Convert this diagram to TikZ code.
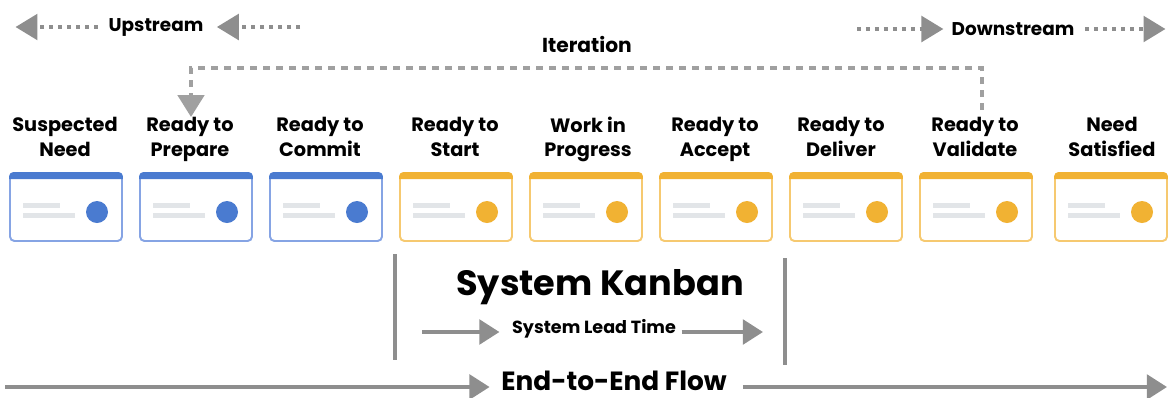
\documentclass[tikz,border=0pt]{standalone}
\usepackage{fontspec}
\setmainfont{Poppins}
\usetikzlibrary{arrows.meta, calc}
\definecolor{cardblue}{HTML}{4A7BD0}
\definecolor{cardblueedge}{HTML}{86A4E4}
\definecolor{cardorange}{HTML}{F1B233}
\definecolor{cardorangeedge}{HTML}{F6C970}
\definecolor{linegray}{HTML}{E2E5E8}
\definecolor{arrowgray}{HTML}{8E8E8E}
\definecolor{dashgray}{HTML}{A0A0A0}

\begin{document}
\begin{tikzpicture}[x=0.02cm, y=-0.02cm,
  stage/.style={font=\fontsize{11}{13.9}\selectfont\bfseries, align=center, inner sep=0pt,
    execute at begin node=\strut, execute at end node=\strut},
  card/.style={draw=card#1edge, fill=white, line width=1.1pt, rounded corners=2.5pt,
    minimum width=2.24cm, minimum height=1.36cm, inner sep=0pt},
  dotflow/.style={arrowgray, line width=2.3pt, dash pattern=on 2.3pt off 2.8pt,
    -{Triangle[length=12.5pt, width=14.5pt, sep=2pt]}},
  itline/.style={dashgray, line width=2.2pt, dash pattern=on 4pt off 3.4pt,
    -{Triangle[length=12.5pt, width=15pt]}},
  flow/.style={arrowgray, line width=2.3pt, -{Triangle[length=11.5pt, width=14pt]}},
  bound/.style={arrowgray, line width=1.8pt}]
  \useasboundingbox (0,0) rectangle (1170,397);

  %% Stream direction headers
  \node[font=\fontsize{10.5}{12}\selectfont\bfseries, inner sep=0pt] (up) at (156,27) {Upstream};
  \coordinate (upL) at (12,27);
  \coordinate (upR) at (300,27);
  \draw[dotflow, shorten <=6pt] (up.west) -- (upL);
  \draw[dotflow, shorten >=5.5pt] (upR) -- (up.east);

  \node[font=\fontsize{10.5}{12}\selectfont\bfseries, inner sep=0pt] (dn) at (1013,29) {Downstream};
  \coordinate (dnL) at (857,29);
  \coordinate (dnR) at (1169,29);
  \draw[dotflow, shorten >=2.5pt] (dnL) -- (dn.west);
  \draw[dotflow, shorten <=6pt] (dn.east) -- (dnR);

  \node[font=\fontsize{11.5}{13}\selectfont\bfseries, inner sep=0pt] (iter) at (587,44) {Iteration};

  %% Stages with their cards
  \foreach \i/\x/\lx/\col/\txt in {
      1/66/65/blue/{Suspected\\Need},
      2/196/190/blue/{Ready to\\Prepare},
      3/326/320/blue/{Ready to\\Commit},
      4/456/455/orange/{Ready to\\Start},
      5/586/588/orange/{Work in\\Progress},
      6/716/715/orange/{Ready to\\Accept},
      7/846/841/orange/{Ready to\\Deliver},
      8/976/975/orange/{Ready to\\Validate},
      9/1111/1112/orange/{Need\\Satisfied}}{
    \node[stage] (l\i) at (\lx,140.5) {\txt};
    \node[card=\col] (c\i) at (\x,207) {};
    % header bar
    \fill[card\col] ($(c\i.north west)+(0,7)$) [rounded corners=2.5pt]
      -- (c\i.north west) -- (c\i.north east) [sharp corners]
      -- ($(c\i.north east)+(0,7)$) -- cycle;
    % placeholder text lines and dot
    \fill[linegray] ($(c\i.center)+(-43,-4)$) rectangle ++(37,5);
    \fill[linegray] ($(c\i.center)+(-43,6)$) rectangle ++(52,5);
    \fill[card\col] ($(c\i.center)+(31,5)$) circle[radius=11];
  }

  %% Iteration loop back from Validate to Prepare
  \coordinate (itS) at (982,110);
  \coordinate (itR) at (982,68);
  \coordinate (itL) at (191,68);
  \coordinate (itE) at (191,117);
  \draw[itline] (itS) -- (itR) -- (itL) -- (itE);

  %% System Kanban span
  \coordinate (kbA) at (395,254);
  \coordinate (kbB) at (395,360);
  \coordinate (kbC) at (785,258);
  \coordinate (kbD) at (785,365);
  \draw[bound] (kbA) -- (kbB);
  \draw[bound] (kbC) -- (kbD);
  \node[font=\fontsize{20}{22}\selectfont\bfseries, inner sep=0pt] (kb) at (600,287) {System Kanban};
  \node[font=\fontsize{10}{12}\selectfont\bfseries, inner sep=0pt] (slt) at (594,329) {System Lead Time};
  \coordinate (sltL) at (422,332);
  \coordinate (sltR) at (763,332);
  \draw[flow, shorten >=7pt] (sltL) -- (slt.west |- sltL);
  \draw[flow, shorten <=3pt] (slt.east |- sltR) -- (sltR);

  %% End-to-end flow
  \node[font=\fontsize{15}{17}\selectfont\bfseries, inner sep=0pt] (e2e) at (614,381) {End-to-End Flow};
  \coordinate (e2eS) at (5,387);
  \coordinate (e2eE) at (1167,387);
  \draw[flow, shorten >=6.5pt] (e2eS) -- (e2eS -| e2e.west);
  \draw[flow, shorten <=9pt] (e2eE -| e2e.east) -- (e2eE);
\end{tikzpicture}
\end{document}
